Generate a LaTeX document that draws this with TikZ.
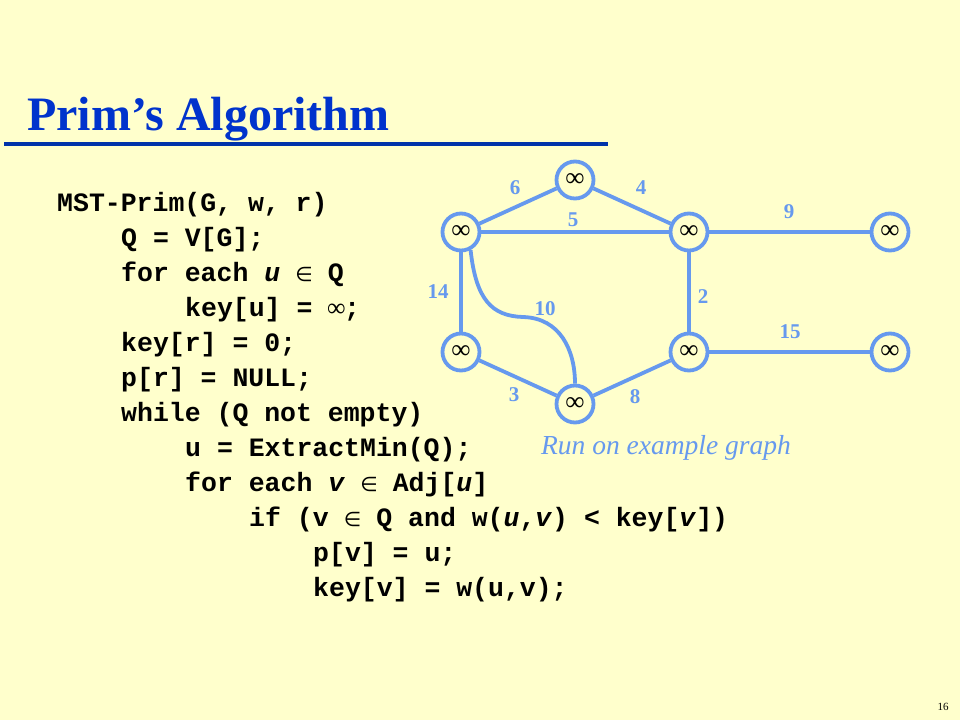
\documentclass[tikz,border=0pt]{standalone}
\usepackage{fontspec}
\setmainfont{Liberation Serif}
\setmonofont{Liberation Mono}
\newfontfamily\symf{DejaVu Sans}
\definecolor{bg}{RGB}{255,255,204}
\definecolor{titleblue}{RGB}{0,51,204}
\definecolor{lineblue}{RGB}{0,51,170}
\definecolor{edgeblue}{RGB}{102,153,238}
\newcommand{\elt}{\makebox[15.9pt]{\mdseries\upshape\symf\fontsize{20}{20}\selectfont ∈}}
\newcommand{\infsym}{\makebox[15.9pt]{\mdseries\upshape\rmfamily\fontsize{26}{26}\selectfont ∞}}
\tikzset{
  vtx/.style={circle, draw=edgeblue, line width=3.8pt, fill=bg, minimum size=37pt, inner sep=0pt,
    font=\fontsize{27}{27}\selectfont, text=black},
  edg/.style={draw=edgeblue, line width=3.8pt},
  wlab/.style={text=edgeblue, font=\bfseries\fontsize{21}{21}\selectfont, inner sep=0pt},
  codeline/.style={anchor=base west, inner sep=0pt, font=\ttfamily\bfseries\fontsize{26.5}{26.5}\selectfont}
}
\begin{document}
\begin{tikzpicture}[x=1pt,y=-1pt]
\useasboundingbox (0,0) rectangle (960,720);
\fill[bg] (0,0) rectangle (960,720);

% title
\node[anchor=base west, inner sep=0pt, text=titleblue, font=\bfseries\fontsize{48}{48}\selectfont] (title) at (27,130) {Prim’s Algorithm};
\coordinate (ul1) at (4,144);
\coordinate (ul2) at (608,144);
\draw[lineblue, line width=4.5pt] (ul1) -- (ul2);

% code
\node[codeline] (c1) at (57,211) {MST-Prim(G, w, r)};
\node[codeline] (c2) at (121,246) {Q = V[G];};
\node[codeline] (c3) at (121,281) {for each \textit{u} \elt{} Q};
\node[codeline] (c4) at (185,316) {key[u] = \infsym;};
\node[codeline] (c5) at (121,351) {key[r] = 0;};
\node[codeline] (c6) at (121,386) {p[r] = NULL;};
\node[codeline] (c7) at (121,421) {while (Q not empty)};
\node[codeline] (c8) at (185,456) {u = ExtractMin(Q);};
\node[codeline] (c9) at (185,491) {for each \textit{v} \elt{} Adj[\textit{u}]};
\node[codeline] (c10) at (249,526) {if (v \elt{} Q and w(\textit{u},\textit{v}) < key[\textit{v}])};
\node[codeline] (c11) at (313,561) {p[v] = u;};
\node[codeline] (c12) at (313,596) {key[v] = w(u,v);};

% graph
\node[vtx] (t)  at (575,180)   {∞};
\node[vtx] (lu) at (461,232)   {∞};
\node[vtx] (mu) at (689,232)   {∞};
\node[vtx] (ru) at (890,232)   {∞};
\node[vtx] (ll) at (461,352)   {∞};
\node[vtx] (b)  at (575,404)   {∞};
\node[vtx] (ml) at (689,352)   {∞};
\node[vtx] (rl) at (890,352)   {∞};

\coordinate (k10) at (523,317);
\draw[edg] (lu) -- (t);
\draw[edg] (t) -- (mu);
\draw[edg] (lu) -- (mu);
\draw[edg] (mu) -- (ru);
\draw[edg] (lu) -- (ll);
\draw[edg] (mu) -- (ml);
\draw[edg] (ml) -- (rl);
\draw[edg] (ll) -- (b);
\draw[edg] (b) -- (ml);
\draw[edg] (lu.-62) .. controls (476,300) and (492,316) .. (k10) .. controls (560,318) and (575,350) .. (b.north);

\node[wlab] (w6)  at (515,188) {6};
\node[wlab] (w4)  at (641,188) {4};
\node[wlab] (w5)  at (573,220) {5};
\node[wlab] (w9)  at (789,212) {9};
\node[wlab] (w14) at (438,292) {14};
\node[wlab] (w10) at (545,309) {10};
\node[wlab] (w2)  at (703,297) {2};
\node[wlab] (w15) at (790,332) {15};
\node[wlab] (w3)  at (514,395) {3};
\node[wlab] (w8)  at (635,397) {8};

\node[text=edgeblue, inner sep=0pt, font=\itshape\fontsize{27.5}{27.5}\selectfont] (cap) at (666,448) {Run on example graph};

\node[inner sep=0pt, font=\fontsize{11}{11}\selectfont] (pg) at (943,707) {16};
\end{tikzpicture}
\end{document}
